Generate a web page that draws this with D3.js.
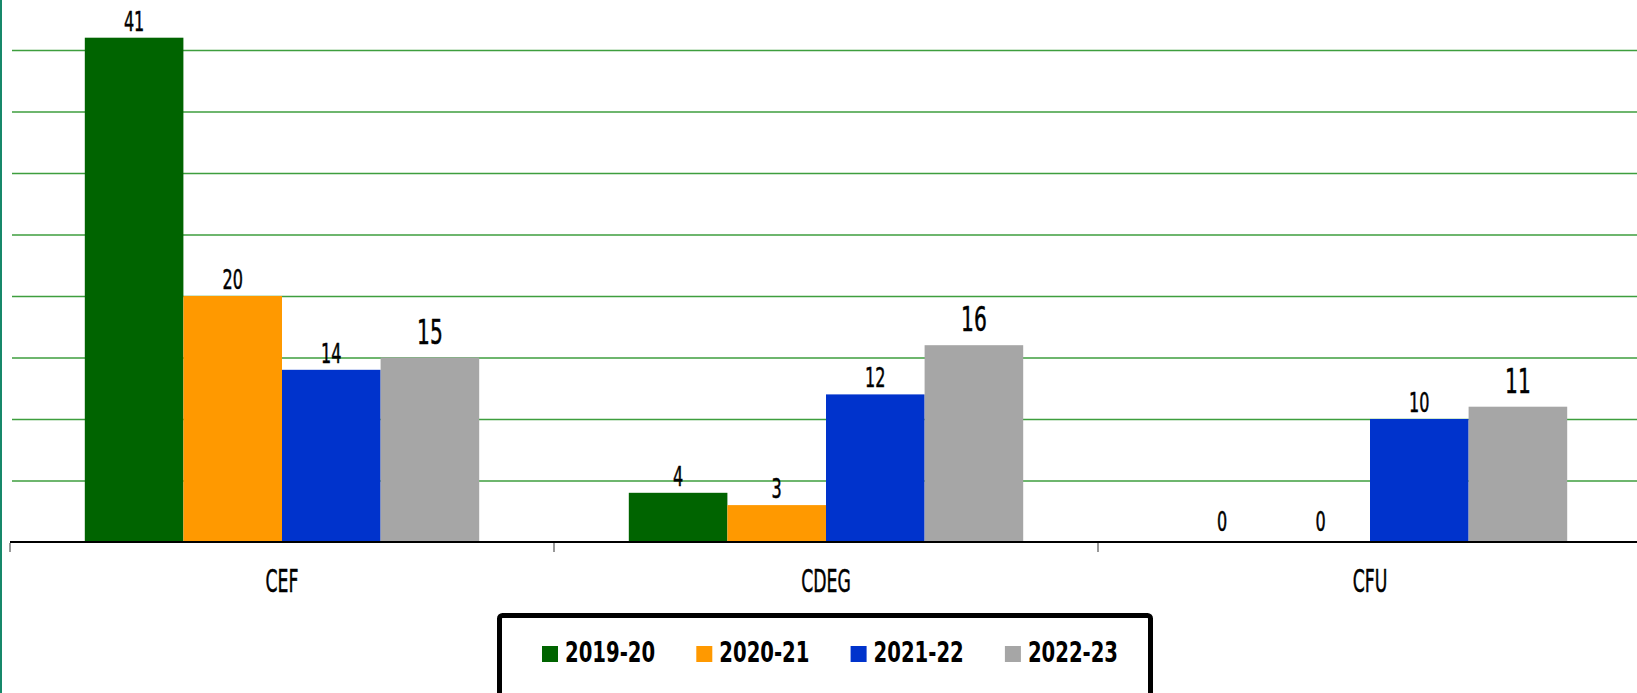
<!DOCTYPE html>
<html>
<head>
<meta charset="utf-8">
<script src="https://cdn.jsdelivr.net/npm/d3@7"></script>
<style>
  body { margin: 0; background: #fff; overflow: hidden; }
  svg { display: block; }
  text { font-family: "DejaVu Sans Condensed", "DejaVu Sans", sans-serif; font-stretch: condensed; fill: #000; }
</style>
</head>
<body>
<svg width="1637" height="693"></svg>
<script>
var categories = ["CEF", "CDEG", "CFU"];
var series = ["2019-20", "2020-21", "2021-22", "2022-23"];
var colors = ["#006400", "#FF9900", "#0033CC", "#A6A6A6"];
// valeurs par serie, dans l'ordre des categories
var v2019 = [41, 4, 0];
var v2020 = [20, 3, 0];
var v2021 = [14, 12, 10];
var v2022 = [15, 16, 11];
var gridTicks = [5, 10, 15, 20, 25, 30, 35, 40];

var values = [v2019, v2020, v2021, v2022];

var svg = d3.select("svg"),
    width = +svg.attr("width"),
    height = +svg.attr("height");

var left = 10, base = 542;

var x0 = d3.scaleBand()
    .domain(categories)
    .range([left, left + 3 * 544]);

var bw = x0.bandwidth();
var x1 = d3.scaleBand()
    .domain(series)
    .range([bw * 0.1375, bw * 0.8625]);

var y = d3.scaleLinear()
    .domain([0, 40])
    .range([base, 50]);

// cadre vert a gauche
svg.append("rect")
    .attr("x", 0).attr("y", 0)
    .attr("width", 2).attr("height", height)
    .attr("fill", "#17886A");

// lignes de grille
svg.append("g")
    .attr("class", "grid")
    .attr("transform", "translate(12,0)")
    .call(d3.axisLeft(y).tickValues(gridTicks).tickSize(-(width - 12)).tickFormat(""))
    .call(function(g) {
        g.select(".domain").remove();
        g.selectAll("line").attr("stroke", "#3E9E3E").attr("stroke-width", 1.6);
    });

// barres
var rows = [];
categories.forEach(function(c, ci) {
    series.forEach(function(s, si) {
        rows.push({cat: c, ser: s, si: si, value: values[si][ci]});
    });
});

svg.append("g")
    .selectAll("rect")
    .data(rows.filter(function(d) { return d.value > 0; }))
    .enter().append("rect")
    .attr("x", function(d) { return x0(d.cat) + x1(d.ser); })
    .attr("y", function(d) { return y(d.value); })
    .attr("width", x1.bandwidth())
    .attr("height", function(d) { return base - y(d.value); })
    .attr("fill", function(d) { return colors[d.si]; });

// axe du bas
var xAxis = svg.append("g")
    .attr("transform", "translate(0," + base + ")");
xAxis.append("line")
    .attr("x1", left).attr("x2", width)
    .attr("stroke", "#000").attr("stroke-width", 2);
xAxis.selectAll(".tk")
    .data(categories)
    .enter().append("line")
    .attr("class", "tk")
    .attr("x1", function(d) { return x0(d); })
    .attr("x2", function(d) { return x0(d); })
    .attr("y1", 1).attr("y2", 10)
    .attr("stroke", "#777").attr("stroke-width", 1.5);
xAxis.selectAll("text")
    .data(categories)
    .enter().append("text")
    .attr("transform", function(d) { return "translate(" + (x0(d) + bw / 2) + ",50) scale(0.6,1)"; })
    .attr("text-anchor", "middle")
    .style("font-size", "32px")
    .style("stroke", "#000").style("stroke-width", 0.5)
    .text(function(d) { return d; });

// etiquettes de valeurs
svg.append("g")
    .selectAll("text")
    .data(rows)
    .enter().append("text")
    .attr("transform", function(d) {
        var big = d.si === 3;
        var gap = d.value === 0 ? 11 : (big ? 14 : 7);
        return "translate(" + (x0(d.cat) + x1(d.ser) + x1.bandwidth() / 2) + "," + (y(d.value) - gap) + ") scale(0.66,1)";
    })
    .attr("text-anchor", "middle")
    .style("font-size", function(d) { return d.si === 3 ? "34px" : "27px"; })
    .style("stroke", "#000").style("stroke-width", 0.5)
    .text(function(d) { return d.value; });

// legende
var legend = svg.append("g");
legend.append("rect")
    .attr("x", 499.5).attr("y", 615.5)
    .attr("width", 651).attr("height", 90)
    .attr("rx", 3)
    .attr("fill", "#fff")
    .attr("stroke", "#000").attr("stroke-width", 5);

var item = legend.selectAll(".item")
    .data(series)
    .enter().append("g")
    .attr("class", "item")
    .attr("transform", function(d, i) { return "translate(" + (542 + i * 154.3) + ",646)"; });
item.append("rect")
    .attr("width", 16).attr("height", 16)
    .attr("fill", function(d, i) { return colors[i]; });
item.append("text")
    .attr("transform", "translate(23,16) scale(0.78,1)")
    .style("font-size", "28px")
    .style("font-weight", "bold")
    .text(function(d) { return d; });
</script>
</body>
</html>
